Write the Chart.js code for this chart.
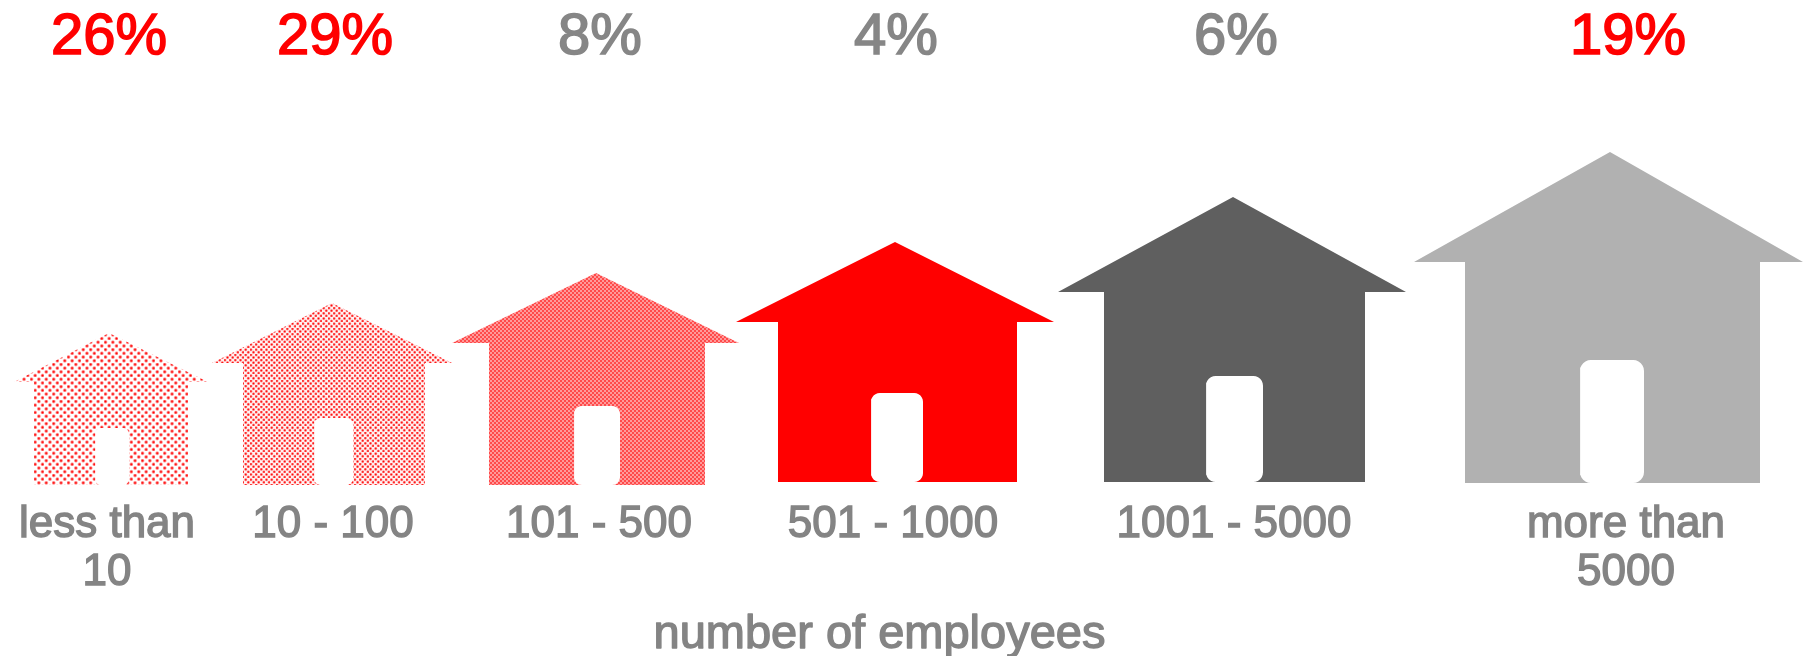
<!DOCTYPE html>
<html>
<head>
<meta charset="utf-8">
<style>
  html, body { margin: 0; padding: 0; background: #fff; }
  #wrap { width: 1803px; height: 656px; }
</style>
<script src="https://cdn.jsdelivr.net/npm/chart.js@4"></script>
</head>
<body>
<div id="wrap"><canvas id="chart" width="1803" height="656"></canvas></div>
<script>
// Survey shares by company size
const sizeLabels = [["less than", "10"], "10 - 100", "101 - 500", "501 - 1000", "1001 - 5000", ["more than", "5000"]];
const shareValues = [26, 29, 8, 4, 6, 19];
const shareColors = ["#ff0000", "#ff0000", "#868686", "#868686", "#868686", "#ff0000"];
const axisTitle = "number of employees";

// House outlines, in the chart's x / height units
const houseCenter = [109, 332, 596, 895, 1233, 1610];
const roofLeft = [14, 212, 452, 736, 1058, 1414];
const roofRight = [208, 452, 739, 1054, 1406, 1803];
const wallLeft = [34, 243, 489, 778, 1104, 1465];
const wallRight = [188, 425, 705, 1017, 1365, 1760];
const floorLevel = [0, 0, 0, 3, 3, 2];
const eaveLevel = [103, 122, 142, 163, 193, 223];
const apexLevel = [152, 182, 212, 243, 288, 333];
const doorLeft = [95, 314, 574, 871, 1206, 1580];
const doorRight = [129, 353, 620, 923, 1263, 1644];
const doorLevel = [57, 67, 79, 92, 109, 125];

// Positions of the text columns
const labelCenter = [107, 333, 599, 893, 1234, 1626];
const shareCenter = [109, 335, 600, 896, 1236, 1628];

const LABEL_GREY = "#848484";

function makeTile(size, paint) {
  const c = document.createElement("canvas");
  c.width = size; c.height = size;
  paint(c.getContext("2d"), size);
  return c;
}

// Staggered halftone: two soft dots per tile, one tile spanning `period` canvas pixels
function dotPattern(ctx, period, dotRadius, paper) {
  const s = 64;
  const r = dotRadius * s / period;
  const tile = makeTile(s, (t) => {
    t.fillStyle = paper; t.fillRect(0, 0, s, s);
    [[s / 4, s / 4], [3 * s / 4, 3 * s / 4]].forEach(([x, y]) => {
      const g = t.createRadialGradient(x, y, 0, x, y, r);
      g.addColorStop(0, "#ff0000");
      g.addColorStop(0.4, "#ff4a4a");
      g.addColorStop(1, "rgba(255,150,150,0)");
      t.fillStyle = g;
      t.beginPath(); t.arc(x, y, r, 0, Math.PI * 2); t.fill();
    });
  });
  const p = ctx.createPattern(tile, "repeat");
  p.setTransform(new DOMMatrix().scale(period / s));
  return p;
}

function checkPattern(ctx) {
  const tile = makeTile(4, (t) => {
    t.fillStyle = "#ff9a9a"; t.fillRect(0, 0, 4, 4);
    t.fillStyle = "#ff4a4a"; t.fillRect(0, 0, 2, 2); t.fillRect(2, 2, 2, 2);
  });
  return ctx.createPattern(tile, "repeat");
}

const canvasCtx = document.getElementById("chart").getContext("2d");
const houseFills = [
  dotPattern(canvasCtx, 7.4, 2.4, "#ffffff"),
  dotPattern(canvasCtx, 5.2, 2.0, "#fff2f2"),
  checkPattern(canvasCtx),
  "#ff0000",
  "#5f5f5f",
  "#b1b1b1"
];

// Door outline with quarter-round corners, walked clockwise as a plain polygon
function doorOutline(i) {
  const l = doorLeft[i], r = doorRight[i], b = floorLevel[i], t = doorLevel[i];
  const c = (r - l) * 0.17;
  const corners = [[l + c, b + c, -90], [l + c, t - c, 180], [r - c, t - c, 90], [r - c, b + c, 0]];
  const pts = [];
  corners.forEach(([cx, cy, start]) => {
    for (let k = 0; k <= 6; k++) {
      const a = (start - (k * 90) / 6) * Math.PI / 180;
      pts.push({ x: cx + c * Math.cos(a), y: cy + c * Math.sin(a) });
    }
  });
  pts.push(pts[0]);
  return pts;
}

function houseOutline(i) {
  return [
    { x: wallLeft[i], y: floorLevel[i] },
    { x: wallLeft[i], y: eaveLevel[i] },
    { x: roofLeft[i], y: eaveLevel[i] },
    { x: houseCenter[i], y: apexLevel[i] },
    { x: roofRight[i], y: eaveLevel[i] },
    { x: wallRight[i], y: eaveLevel[i] },
    { x: wallRight[i], y: floorLevel[i] },
    { x: wallLeft[i], y: floorLevel[i] }
  ];
}

const shape = { showLine: true, borderWidth: 0, pointRadius: 0, tension: 0, fill: "shape", clip: false, borderColor: "transparent" };

const datasets = [];
shareValues.forEach((v, i) => {
  datasets.push({ ...shape, label: "house " + (i + 1), data: houseOutline(i), backgroundColor: houseFills[i], order: 2 });
});
shareValues.forEach((v, i) => {
  datasets.push({ ...shape, label: "door " + (i + 1), data: doorOutline(i), backgroundColor: "#ffffff", order: 1 });
});

// The last roof overhangs the axis's right end; the filler clips to chartArea, so widen it
const roofOverhang = {
  id: "roofOverhang",
  afterLayout(chart) { chart.chartArea.right = chart.width; }
};

// Chart.js titles have no stroke option, so the axis title gets its extra weight here
const titleWeight = {
  id: "titleWeight",
  afterDraw(chart) {
    const s = chart.scales.x;
    const font = s.options.title.font;
    const { ctx } = chart;
    ctx.save();
    ctx.font = "normal " + font.size + "px " + font.family;
    ctx.textAlign = "center";
    ctx.textBaseline = "middle";
    ctx.strokeStyle = LABEL_GREY;
    ctx.lineWidth = 1.4;
    ctx.lineJoin = "round";
    ctx.strokeText(axisTitle, (s.left + s.right) / 2, s.bottom - (font.size * font.lineHeight) / 2);
    ctx.restore();
  }
};

new Chart(canvasCtx, {
  type: "line",
  data: { datasets },
  plugins: [roofOverhang, titleWeight],
  options: {
    responsive: false,
    animation: false,
    events: [],
    layout: { padding: { left: 0, right: 44, top: 0, bottom: 0 } },
    plugins: { legend: { display: false }, tooltip: { enabled: false } },
    scales: {
      x: {
        type: "linear", position: "bottom", min: 0, max: 1759,
        grid: { display: false }, border: { display: false },
        afterBuildTicks: (s) => { s.ticks = labelCenter.map((value) => ({ value })); },
        afterFit: (s) => { s.height = 171; },
        ticks: {
          autoSkip: false, maxRotation: 0, minRotation: 0, padding: 8,
          color: LABEL_GREY, textStrokeColor: LABEL_GREY, textStrokeWidth: 1.4,
          font: { family: "Liberation Sans", size: 44, lineHeight: 1.09 },
          callback: (value, idx) => sizeLabels[idx]
        },
        title: {
          display: true, text: axisTitle, color: LABEL_GREY,
          font: { family: "Liberation Sans", size: 47, lineHeight: 0.894 }, padding: 0
        }
      },
      shares: {
        type: "linear", position: "top", min: 0, max: 1759,
        grid: { display: false }, border: { display: false },
        afterBuildTicks: (s) => { s.ticks = shareCenter.map((value) => ({ value })); },
        afterFit: (s) => { s.height = 100; },
        ticks: {
          autoSkip: false, maxRotation: 0, minRotation: 0, padding: 19,
          color: (c) => shareColors[c.index],
          textStrokeColor: (c) => shareColors[c.index], textStrokeWidth: 1.6,
          font: { family: "Liberation Sans", size: 58 },
          callback: (value, idx) => shareValues[idx] + "%"
        }
      },
      y: { type: "linear", display: false, min: 0, max: 385 }
    }
  }
});
</script>
</body>
</html>
